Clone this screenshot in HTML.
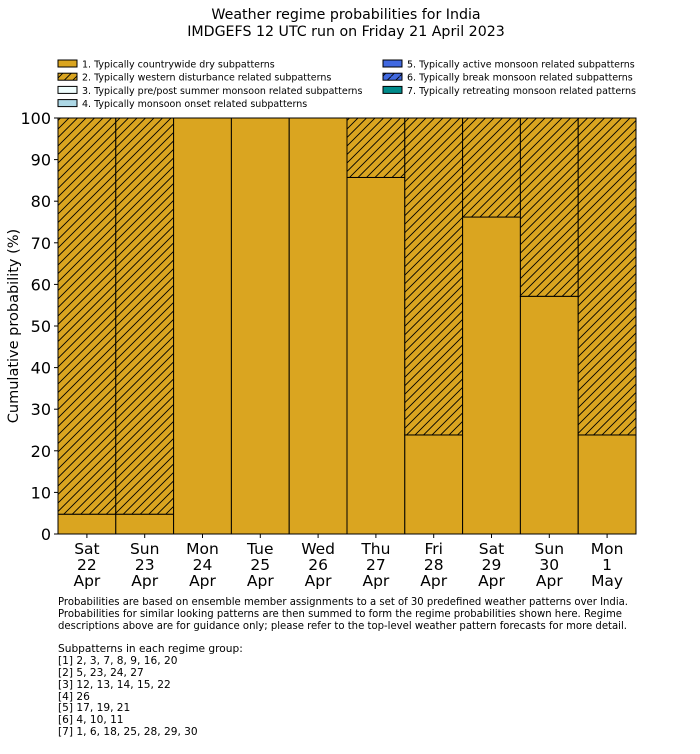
<!DOCTYPE html>
<html><head><meta charset="utf-8"><style>
body{margin:0;background:#fff;font-family:"DejaVu Sans","Liberation Sans",sans-serif;}
svg{display:block}
</style></head><body>
<svg id="chart" width="700" height="754" xmlns="http://www.w3.org/2000/svg" font-family="DejaVu Sans, Liberation Sans, sans-serif">
<defs>
<pattern id="hatch" patternUnits="userSpaceOnUse" width="8.5" height="8.5">
<rect width="8.5" height="8.5" fill="#DAA520"/>
<path d="M-1,1 L1,-1 M0,8.5 L8.5,0 M7.5,9.5 L9.5,7.5" stroke="#000" stroke-width="0.9"/>
</pattern>
</defs>
<text x="346" y="19" font-size="14.2" text-anchor="middle">Weather regime probabilities for India</text>
<text x="346" y="36" font-size="14.2" text-anchor="middle">IMDGEFS 12 UTC run on Friday 21 April 2023</text>
<g id="legend" font-size="9.5"></g>
<g id="bars"></g>
<g id="axes"></g>
<text transform="translate(18,326) rotate(-90)" font-size="14.5" text-anchor="middle">Cumulative probability (%)</text>
<g font-size="10.6">
<text x="58" y="605" textLength="570" lengthAdjust="spacingAndGlyphs">Probabilities are based on ensemble member assignments to a set of 30 predefined weather patterns over India.</text>
<text x="58" y="617" textLength="564" lengthAdjust="spacingAndGlyphs">Probabilities for similar looking patterns are then summed to form the regime probabilities shown here. Regime</text>
<text x="58" y="629" textLength="569" lengthAdjust="spacingAndGlyphs">descriptions above are for guidance only; please refer to the top-level weather pattern forecasts for more detail.</text>
<text x="58" y="652">Subpatterns in each regime group:</text>
<text x="58" y="664">[1] 2, 3, 7, 8, 9, 16, 20</text>
<text x="58" y="676">[2] 5, 23, 24, 27</text>
<text x="58" y="688">[3] 12, 13, 14, 15, 22</text>
<text x="58" y="700">[4] 26</text>
<text x="58" y="711">[5] 17, 19, 21</text>
<text x="58" y="723">[6] 4, 10, 11</text>
<text x="58" y="735">[7] 1, 6, 18, 25, 28, 29, 30</text>
</g>
</svg>
<script>
const days = [["Sat","22","Apr"],["Sun","23","Apr"],["Mon","24","Apr"],["Tue","25","Apr"],["Wed","26","Apr"],["Thu","27","Apr"],["Fri","28","Apr"],["Sat","29","Apr"],["Sun","30","Apr"],["Mon","1","May"]];
const dry = [4.76,4.76,100,100,100,85.71,23.81,76.19,57.14,23.81];
const western = [95.24,95.24,0,0,0,14.29,76.19,23.81,42.86,76.19];
const yTicks = [0,10,20,30,40,50,60,70,80,90,100];
const legendLabels = ["1. Typically countrywide dry subpatterns","2. Typically western disturbance related subpatterns","3. Typically pre/post summer monsoon related subpatterns","4. Typically monsoon onset related subpatterns","5. Typically active monsoon related subpatterns","6. Typically break monsoon related subpatterns","7. Typically retreating monsoon related patterns"];
const legendFills = ["#DAA520","url(#hatch)","#F0FFFF","#ADD8E6","#4169E1","url(#hatchb)","#008B8B"];

const NS="http://www.w3.org/2000/svg";
const X0=58,X1=636,Y0=534,Y1=118;
const bw=(X1-X0)/days.length;
const xs=i=>X0+i*bw;
const ys=v=>Y0-(v/100)*(Y0-Y1);
function mk(tag,attrs,parent){const e=document.createElementNS(NS,tag);for(const k in attrs)e.setAttribute(k,attrs[k]);parent.appendChild(e);return e;}
const defs=document.querySelector('defs');
const pb=mk('pattern',{id:'hatchb',patternUnits:'userSpaceOnUse',width:8.5,height:8.5},defs);
mk('rect',{width:8.5,height:8.5,fill:'#4169E1'},pb);
mk('path',{d:'M0,8.5 L8.5,0',stroke:'#000','stroke-width':0.9},pb);

const bars=document.getElementById('bars');
for(let i=0;i<days.length;i++){
  const r=mk('rect',{x:xs(i),y:ys(dry[i]),width:bw,height:Y0-ys(dry[i]),fill:'#DAA520',stroke:'#000','stroke-width':1},bars);
  
  
  if(western[i]>0){
    const w=mk('rect',{x:xs(i),y:ys(dry[i]+western[i]),width:bw,height:ys(dry[i])-ys(dry[i]+western[i]),fill:'url(#hatch)',stroke:'#000','stroke-width':1},bars);
    
    
  }
}
const axes=document.getElementById('axes');
mk('rect',{x:X0,y:Y1,width:X1-X0,height:Y0-Y1,fill:'none',stroke:'#000','stroke-width':1},axes);
yTicks.forEach(t=>{
  mk('line',{x1:X0-4,x2:X0,y1:ys(t),y2:ys(t),stroke:'#000'},axes);
  const tx=mk('text',{x:X0-7,y:ys(t)+6,'font-size':16,'text-anchor':'end'},axes);
  tx.textContent=t;
  
  
});
days.forEach((d,i)=>{
  const cx=xs(i)+bw/2;
  mk('line',{x1:cx,x2:cx,y1:Y0,y2:Y0+4,stroke:'#000'},axes);
  d.forEach((s,j)=>{
    const tx=mk('text',{x:cx,y:Y0+20+j*16,'font-size':15.5,'text-anchor':'middle'},axes);
    tx.textContent=s;
    
    
  });
});
const lg=document.getElementById('legend');
legendLabels.forEach((l,i)=>{
  const col=i<4?0:1, row=i<4?i:i-4;
  const x=col?383:58, y=60+row*13.2;
  const r=mk('rect',{x:x,y:y,width:19,height:7,fill:legendFills[i],stroke:'#000','stroke-width':1},lg);
  
  
  const t=mk('text',{x:x+24,y:y+7.5},lg);
  t.textContent=l;
  
  
});
</script>
</body></html>
